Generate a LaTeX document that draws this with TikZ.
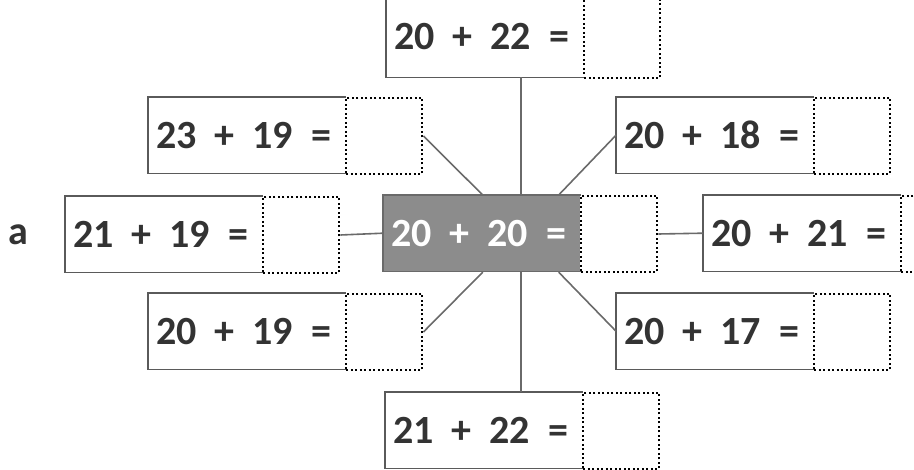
\documentclass[tikz,border=0pt]{standalone}
\usepackage{fontspec}
\setmainfont{Carlito}
\usetikzlibrary{calc}
\definecolor{boxgray}{HTML}{5A5A5A}
\definecolor{linegray}{HTML}{6A6A6A}
\definecolor{fillgray}{HTML}{8C8C8C}
\definecolor{textgray}{HTML}{333333}
\newcommand{\eqn}[2]{#1\hspace{0.45em}+\hspace{0.45em}#2\hspace{0.45em}=}
\begin{document}
\begin{tikzpicture}[x=1pt,y=-1pt,
  eq/.style={draw=none, minimum width=197pt, minimum height=76pt,
    inner xsep=8pt, inner ysep=0pt, text width=181pt, align=left, anchor=north west,
    font=\bfseries\fontsize{40}{40}\selectfont, text=textgray},
  boxline/.style={draw=boxgray, line width=1.5pt, line cap=rect},
  ans/.style={draw=black, line width=2pt, dash pattern=on 2pt off 2.5pt,
    minimum width=76pt, minimum height=76pt, anchor=north west, inner sep=0pt},
  conn/.style={draw=linegray, line width=1.6pt}]
\useasboundingbox (0,0) rectangle (914,470);
\clip (0,0) rectangle (914,470);
% boxes
\node[eq, minimum height=82pt] (t) at (386,-5) {\eqn{20}{22}};
\node[ans, minimum height=82pt] (tb) at (t.north east) {};
\node[eq] (ul) at (148,97) {\eqn{23}{19}};
\node[ans] (ulb) at (ul.north east) {};
\node[eq] (ur) at (616,97) {\eqn{20}{18}};
\node[ans] (urb) at (ur.north east) {};
\node[eq] (l) at (65,196) {\eqn{21}{19}};
\node[ans] (lb) at (l.north east) {};
\node[eq, fill=fillgray, text=white] (c) at (383,195) {\eqn{20}{20}};
\node[ans] (cb) at (c.north east) {};
\node[eq] (r) at (703,195) {\eqn{20}{21}};
\node[ans] (rb) at (r.north east) {};
\node[eq] (ll) at (148,293) {\eqn{20}{19}};
\node[ans] (llb) at (ll.north east) {};
\node[eq] (lr) at (616,293) {\eqn{20}{17}};
\node[ans] (lrb) at (lr.north east) {};
\node[eq] (b) at (385,392) {\eqn{21}{22}};
\node[ans] (bb) at (b.north east) {};
\foreach \n in {t,ul,ur,l,r,ll,lr,b}
  \draw[boxline] (\n.north east) -- (\n.north west) -- (\n.south west) -- (\n.south east);
\draw[boxline, draw=linegray] (c.north east) -- (c.north west) -- (c.south west) -- (c.south east);
% label
\node[font=\bfseries\fontsize{40}{40}\selectfont, text=textgray] (lab) at (18,235) {a};
% connectors
\coordinate (cn) at ($(c.north west)!0.5!(cb.north east)$);
\coordinate (cs) at ($(c.south west)!0.5!(cb.south east)$);
\draw[conn] (cn) -- (cn |- t.south);
\draw[conn] (cs) -- (cs |- b.north);
\draw[conn] (lb.east) -- (c.west);
\draw[conn] (cb.east) -- (r.west);
\draw[conn] (ulb.east) -- ($(cn)+(-38,0)$);
\draw[conn] (ur.west) -- ($(cn)+(38,0)$);
\draw[conn] (llb.east) -- ($(cs)+(-38,0)$);
\draw[conn] (lr.west) -- ($(cs)+(38,0)$);
\end{tikzpicture}
\end{document}
